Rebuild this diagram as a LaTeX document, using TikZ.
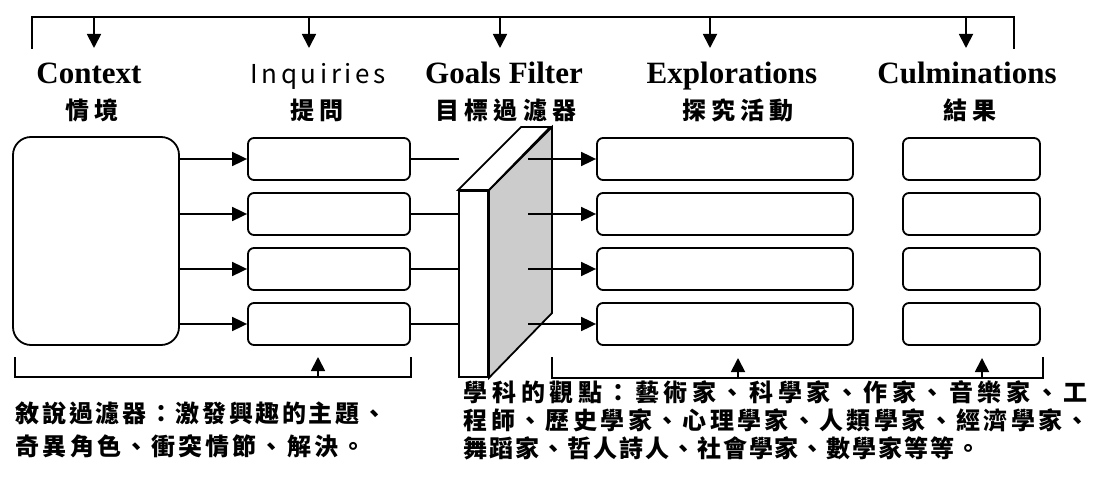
\documentclass[tikz,border=0pt]{standalone}
\usepackage{fontspec}
\setmainfont{Liberation Serif}
\newfontfamily\cjk{Noto Sans CJK TC}
\usetikzlibrary{arrows.meta}
\begin{document}
\begin{tikzpicture}[x=1pt,y=-1pt,line width=1.8pt,
 rbox/.style={draw,fill=white,rounded corners=6pt,inner sep=0pt,minimum height=42pt},
 ibox/.style={rbox,minimum width=162pt},
 ebox/.style={rbox,minimum width=256pt},
 cbox/.style={rbox,minimum width=137pt},
 arr/.style={-{Triangle[length=15pt,width=14pt]}},
 varr/.style={-{Triangle[length=14pt,width=14pt]}},
 head/.style={inner sep=0pt,anchor=base,font=\fontsize{31}{36}\selectfont\bfseries},
 zh/.style={inner sep=0pt,font=\fontsize{24}{30}\selectfont\cjk\bfseries\addfontfeature{LetterSpace=21}},
 note/.style={inner sep=0pt,anchor=west}]
\useasboundingbox (0,0) rectangle (1100,494);
% top bracket
\coordinate (tl) at (32,49);
\coordinate (tlt) at (32,17);
\coordinate (trt) at (1014,17);
\coordinate (tr) at (1014,49);
\draw (tl) -- (tlt) -- (trt) -- (tr);
\foreach \i/\x in {1/94,2/309,3/500,4/710,5/966}{
  \coordinate (ta\i) at (\x,17);
  \coordinate (tb\i) at (\x,48);
  \draw[varr] (ta\i) -- (tb\i);
}
% headings
\node[head] (hctx) at (89,84) {Context};
\node[inner sep=0pt,anchor=base,font=\fontsize{26}{30}\selectfont\cjk\addfontfeature{LetterSpace=14}] (hinq) at (318,84) {Inquiries};
\node[head] (hgoal) at (504,84) {Goals Filter};
\node[head] (hexp) at (732,84) {Explorations};
\node[head] (hcul) at (967,84) {Culminations};
\node[zh] (zctx) at (92,110) {情境};
\node[zh] (zinq) at (317,110) {提問};
\node[zh] (zgoal) at (506,110) {目標過濾器};
\node[zh] (zexp) at (738,110) {探究活動};
\node[zh] (zcul) at (970,110) {結果};
% context box
\node[draw,rounded corners=18pt,minimum width=166pt,minimum height=208pt,inner sep=0pt] (ctx) at (96,241) {};
% filter
\node[draw,fill=white,minimum width=29pt,minimum height=186pt,inner sep=0pt] (front) at (473.5,284) {};
\filldraw[fill=black!20] (front.north east) -- ++(63,-63) -- ++(0,186) -- (front.south east) -- cycle;
\filldraw[fill=white] (front.north west) -- ++(63,-63) -- ++(29,0) -- (front.north east) -- cycle;
% rows
\foreach \r/\y in {1/159,2/214,3/269,4/324}{
  \node[ibox] (i\r) at (329,\y) {};
  \node[ebox] (e\r) at (725,\y) {};
  \node[cbox] (c\r) at (971.5,\y) {};
  \draw[arr] (ctx.east |- i\r) -- (i\r.west);
  \coordinate (s\r) at (528,\y);
  \draw[arr] (s\r) -- (e\r.west);
}
\coordinate (g1) at (459,159);
\draw (i1.east) -- (g1);
\draw (i2.east) -- (i2.east -| front.west);
\draw (i3.east) -- (i3.east -| front.west);
\draw (i4.east) -- (i4.east -| front.west);
% bottom brackets
\coordinate (bl1) at (15,357);
\coordinate (bl2) at (15,377);
\coordinate (bl3) at (411,377);
\coordinate (bl4) at (411,357);
\draw (bl1) -- (bl2) -- (bl3) -- (bl4);
\coordinate (ua1) at (318,377);
\coordinate (ub1) at (318,357);
\draw[varr] (ua1) -- (ub1);
\coordinate (br1) at (552,357);
\coordinate (br2) at (552,378);
\coordinate (br3) at (1043,378);
\coordinate (br4) at (1043,357);
\draw (br1) -- (br2) -- (br3) -- (br4);
\coordinate (ua2) at (738,378);
\coordinate (ub2) at (738,358);
\draw[varr] (ua2) -- (ub2);
\coordinate (ua3) at (982,378);
\coordinate (ub3) at (982,358);
\draw[varr] (ua3) -- (ub3);
% notes
\node[note,font=\fontsize{24}{30}\selectfont\cjk\bfseries\addfontfeature{LetterSpace=11}] (nl1) at (15,413) {敘說過濾器：激發興趣的主題、};
\node[note,font=\fontsize{24}{30}\selectfont\cjk\bfseries\addfontfeature{LetterSpace=13}] (nl2) at (15,446) {奇異角色、衝突情節、解決。};
\node[note,font=\fontsize{24}{30}\selectfont\cjk\bfseries\addfontfeature{LetterSpace=19}] (nr1) at (463,392) {學科的觀點：藝術家、科學家、作家、音樂家、工};
\node[note,font=\fontsize{24}{30}\selectfont\cjk\bfseries\addfontfeature{LetterSpace=14}] (nr2) at (463,420) {程師、歷史學家、心理學家、人類學家、經濟學家、};
\node[note,font=\fontsize{24}{30}\selectfont\cjk\bfseries\addfontfeature{LetterSpace=8}] (nr3) at (463,448) {舞蹈家、哲人詩人、社會學家、數學家等等。};
\end{tikzpicture}
\end{document}
